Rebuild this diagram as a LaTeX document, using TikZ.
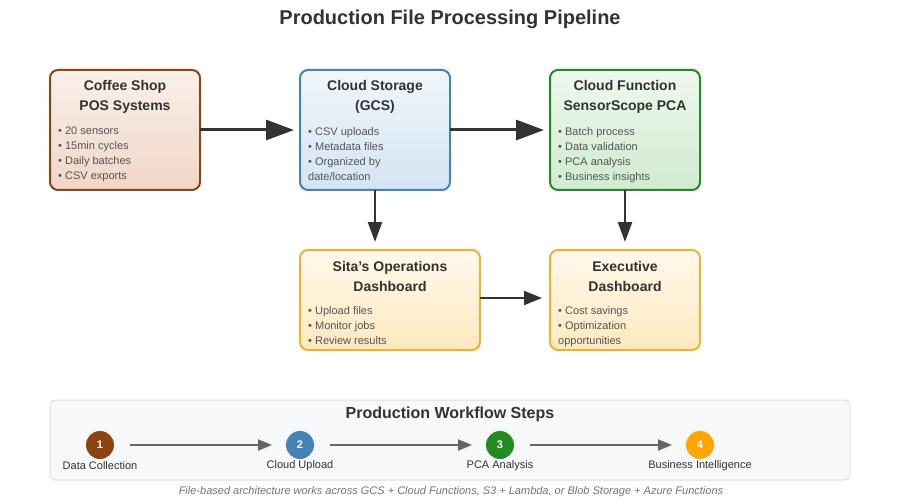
\documentclass[tikz,border=0pt]{standalone}
\usepackage{fontspec}
\setmainfont{Liberation Sans}
\usetikzlibrary{arrows.meta}
\definecolor{txt}{HTML}{333333}
\definecolor{bul}{HTML}{555555}
\definecolor{brownc}{HTML}{8B4513}
\definecolor{bluec}{HTML}{4682B4}
\definecolor{greenc}{HTML}{228B22}
\definecolor{orangec}{HTML}{FFA500}
\definecolor{goldc}{HTML}{F0B030}
\definecolor{arr}{HTML}{333333}
\definecolor{garr}{HTML}{666666}
\definecolor{brownT}{RGB}{249,240,235}
\definecolor{brownB}{RGB}{240,214,198}
\definecolor{blueT}{RGB}{240,246,251}
\definecolor{blueB}{RGB}{212,228,242}
\definecolor{greenT}{RGB}{238,248,238}
\definecolor{greenB}{RGB}{208,234,208}
\definecolor{orT}{RGB}{255,249,235}
\definecolor{orB}{RGB}{253,233,192}
\tikzset{
  box/.style={draw, line width=2pt, rounded corners=8pt, anchor=north west, inner sep=0pt, outer sep=0pt, shading angle=135},
  ttl/.style={font=\fontsize{14}{20}\selectfont\bfseries, text=txt, align=center, anchor=center},
  bl/.style={font=\fontsize{11}{15}\selectfont, text=bul, align=left, anchor=north west, inner sep=0pt},
  bigarr/.style={draw=arr, line width=3pt, -{Triangle[length=28pt, width=20pt]}},
  downarr/.style={draw=arr, line width=2.5pt, -{Triangle[length=20pt, width=14pt]}},
  midarr/.style={draw=arr, line width=2pt, -{Triangle[length=18pt, width=14pt]}},
  steparr/.style={draw=garr, line width=2pt, -{Triangle[length=14pt, width=11pt]}},
  stepc/.style={circle, minimum size=28pt, inner sep=0pt, text=white, font=\fontsize{11}{13}\selectfont\bfseries},
  steplbl/.style={font=\fontsize{11}{13}\selectfont, text=txt, anchor=center},
}
\begin{document}
\begin{tikzpicture}[x=1pt, y=-1pt]
\useasboundingbox (0,0) rectangle (900,500);
\fill[white] (0,0) rectangle (900,500);

\node[font=\fontsize{20}{24}\selectfont\bfseries, text=txt] (title) at (450,19) {Production File Processing Pipeline};

% boxes
\node[box, draw=brownc, top color=brownT, bottom color=brownB, minimum width=150pt, minimum height=120pt] (pos) at (50,70) {};
\node[box, draw=bluec, top color=blueT, bottom color=blueB, minimum width=150pt, minimum height=120pt] (gcs) at (300,70) {};
\node[box, draw=greenc, top color=greenT, bottom color=greenB, minimum width=150pt, minimum height=120pt] (fn) at (550,70) {};
\node[box, draw=goldc, top color=orT, bottom color=orB, minimum width=180pt, minimum height=100pt] (sita) at (300,250) {};
\node[box, draw=goldc, top color=orT, bottom color=orB, minimum width=150pt, minimum height=100pt] (exec) at (550,250) {};

% titles
\node[ttl] (posT) at (125,96.5) {Coffee Shop\\POS Systems};
\node[ttl] (gcsT) at (375,96.5) {Cloud Storage\\(GCS)};
\node[ttl] (fnT) at (625,96.5) {Cloud Function\\SensorScope PCA};
\node[ttl] (sitaT) at (390,276) {Sita's Operations\\Dashboard};
\node[ttl] (execT) at (625,276) {Executive\\Dashboard};

% bullets
\node[bl] (posB) at (58,127) {• 20 sensors\\• 15min cycles\\• Daily batches\\• CSV exports};
\node[bl] (gcsB) at (308,127) {• CSV uploads\\• Metadata files\\• Organized by\\date/location};
\node[bl] (fnB) at (558,127) {• Batch process\\• Data validation\\• PCA analysis\\• Business insights};
\node[bl] (sitaB) at (308,306) {• Upload files\\• Monitor jobs\\• Review results};
\node[bl] (execB) at (558,306) {• Cost savings\\• Optimization\\opportunities};

% connectors
\draw[bigarr] (pos.east |- 0,130) -- (294,130);
\draw[bigarr] (gcs.east |- 0,130) -- (544,130);
\draw[downarr] (gcs.south) -- (gcs.south |- 0,242);
\draw[downarr] (fn.south) -- (fn.south |- 0,242);
\draw[midarr] (sita.east |- 0,298) -- (542,298);

% workflow panel
\node[draw=black!12, line width=1pt, fill={rgb,255:red,246;green,248;blue,250}, rounded corners=5pt, minimum width=800pt, minimum height=80pt, anchor=north west, inner sep=0pt, outer sep=0pt] (panel) at (50,400) {};
\node[font=\fontsize{16}{19}\selectfont\bfseries, text=txt] (panelT) at (450,414) {Production Workflow Steps};

\node[stepc, fill=brownc] (s1) at (100,445) {1};
\node[stepc, fill=bluec] (s2) at (300,445) {2};
\node[stepc, fill=greenc] (s3) at (500,445) {3};
\node[stepc, fill=orangec] (s4) at (700,445) {4};

\node[steplbl] (l1) at (100,466) {Data Collection};
\node[steplbl] (l2) at (300,466) {Cloud Upload};
\node[steplbl] (l3) at (500,466) {PCA Analysis};
\node[steplbl] (l4) at (700,466) {Business Intelligence};

\draw[steparr] (130,445) -- (272,445);
\draw[steparr] (330,445) -- (472,445);
\draw[steparr] (530,445) -- (672,445);

\node[font=\fontsize{11}{13}\selectfont\itshape, text=black!55] (foot) at (451,492) {File-based architecture works across GCS + Cloud Functions, S3 + Lambda, or Blob Storage + Azure Functions};
\end{tikzpicture}
\end{document}
